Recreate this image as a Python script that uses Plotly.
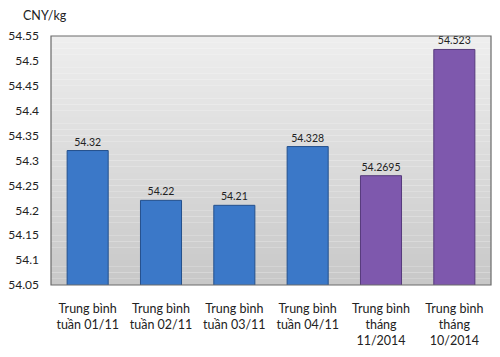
import plotly.graph_objects as go

categories = ["Trung bình<br>tuần 01/11", "Trung bình<br>tuần 02/11", "Trung bình<br>tuần 03/11",
              "Trung bình<br>tuần 04/11", "Trung bình<br>tháng<br>11/2014", "Trung bình<br>tháng<br>10/2014"]
values = [54.32, 54.22, 54.21, 54.328, 54.2695, 54.523]
value_labels = ["54.32", "54.22", "54.21", "54.328", "54.2695", "54.523"]
bar_colors = ["#3b78c8", "#3b78c8", "#3b78c8", "#3b78c8", "#7e58ad", "#7e58ad"]
line_colors = ["#24508c", "#24508c", "#24508c", "#24508c", "#563a7c", "#563a7c"]
tick_vals = [54.05, 54.1, 54.15, 54.2, 54.25, 54.3, 54.35, 54.4, 54.45, 54.5, 54.55]
tick_text = ["54.05", "54.1", "54.15", "54.2", "54.25", "54.3", "54.35", "54.4", "54.45", "54.5", "54.55"]

fig = go.Figure()
fig.add_trace(go.Bar(
    x=categories, y=values,
    marker=dict(color=bar_colors, line=dict(color=line_colors, width=1)),
    text=value_labels, textposition="outside",
    textfont=dict(size=10.5, color="#222222", family="Lato"),
    cliponaxis=False,
))

# gradient background for the plot area
n = 40
top = (238, 238, 238)
bot = (200, 200, 200)
shapes = []
for i in range(n):
    t = i / (n - 1)
    c = tuple(int(round(top[k] + (bot[k] - top[k]) * t)) for k in range(3))
    shapes.append(dict(type="rect", xref="paper", yref="paper",
                       x0=0, x1=1, y0=1 - (i + 1) / n, y1=1 - i / n,
                       fillcolor="rgb(%d,%d,%d)" % c, line=dict(width=0), layer="below"))
shapes.append(dict(type="rect", xref="paper", yref="paper", x0=0, x1=1, y0=0, y1=1,
                   line=dict(color="#6a6a6a", width=1.2), fillcolor="rgba(0,0,0,0)", layer="above"))

fig.update_layout(
    width=500, height=357,
    margin=dict(l=43, r=17, t=28, b=80, autoexpand=False),
    paper_bgcolor="white", plot_bgcolor="rgba(0,0,0,0)",
    bargap=0.44, showlegend=False,
    font=dict(family="Lato", size=12.5, color="#222222"),
    shapes=shapes,
    xaxis=dict(showgrid=False, showline=False, ticks="", ticklabelstandoff=14,
               automargin=False, tickfont=dict(size=12.5)),
    yaxis=dict(range=[54.05, 54.55], tickvals=tick_vals, ticktext=tick_text,
               showgrid=False, zeroline=False, showline=False, ticks="", ticklabelstandoff=11,
               automargin=False, tickfont=dict(size=12)),
    annotations=[
        dict(text="CNY/kg", xref="paper", yref="paper", x=-0.068, y=1.0, yshift=11,
             xanchor="left", yanchor="bottom", showarrow=False, font=dict(size=12.5)),
    ],
)
fig.write_html("out.html")
